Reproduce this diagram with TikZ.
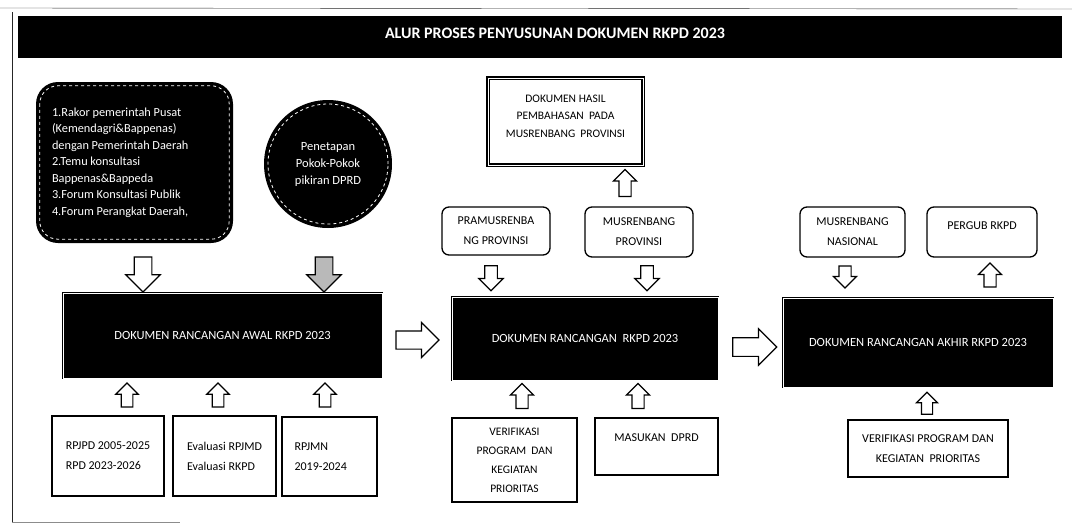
\documentclass[tikz,border=0pt]{standalone}
\usepackage{fontspec}
\setmainfont{Carlito}
\usetikzlibrary{shapes.arrows}
\colorlet{scan}{black!85}

\tikzset{
    boxtxt/.style={font=\fontsize{12}{20}\selectfont, align=center, inner sep=0pt},
    darkbox/.style={draw=black, fill=black, line width=0.9pt, double=white,
        double distance=0.7pt, text=white, font=\fontsize{12.5}{15}\selectfont},
    plainbox/.style={draw=black, fill=white, line width=1.3pt, boxtxt},
    softbox/.style={plainbox, rounded corners=7pt},
    blockarr/.style 2 args={single arrow, draw=black, fill=white, line width=1.2pt,
        inner xsep=0pt, inner ysep={#2/4}, minimum height=#1, minimum width=#2,
        single arrow head extend={#2/4}},
    uparr/.style 2 args={blockarr={#1}{#2}, rotate=90},
    downarr/.style 2 args={blockarr={#1}{#2}, rotate=-90}
}

\begin{document}
\begin{tikzpicture}[x=1pt,y=-1pt]
    \useasboundingbox (0,0) rectangle (1072,525);
    % sheet edges
    \draw [scan,thin] (0,8) -- (1072,9);
    \draw [scan,line width=1pt] (12,12) -- (12,523);
    \draw [black!45,line width=1pt] (12,522) -- (180,522);

    % title
    \node [fill=black, minimum width=1044, minimum height=42] (bar) at (540,37) {};
    \node [text=white, font=\fontsize{16}{18}\bfseries] (title) at (555,33)
        {ALUR PROSES PENYUSUNAN DOKUMEN RKPD 2023};

    % inputs of the first draft
    \node [fill=black, text=white, rounded corners=22pt, minimum width=197,
        minimum height=161, text width=165, align=flush left,
        font=\fontsize{12.3}{16.5}\selectfont]
        (rakor) at (134.5,162.5)
        {1.Rakor pemerintah Pusat\\(Kemendagri\&Bappenas)\\dengan Pemerintah Daerah\\
         2.Temu konsultasi\\Bappenas\&Bappeda\\3.Forum Konsultasi Publik\\
         4.Forum Perangkat Daerah,};
    \draw [white,dashed,thick,rounded corners=18pt]
        ([shift={(4,4)}]rakor.north west) rectangle ([shift={(-4,-4)}]rakor.south east);
    \node [circle, fill=black, text=white, minimum size=128, align=center,
        font=\fontsize{12.5}{17}\selectfont] (pokir) at (328,164)
        {Penetapan\\Pokok-Pokok\\pikiran DPRD};
    \draw [white,dashed,thick] (pokir.center) circle [radius=60pt];
    \node [downarr={35}{33}] (arakor) at (143,270) {};
    \node [downarr={35}{33}, fill=gray!55] (apokir) at (324,270) {};

    % first draft
    \node [darkbox, minimum width=319, minimum height=85] (awal) at (222.5,335.5)
        {DOKUMEN RANCANGAN AWAL RKPD 2023};
    \node [plainbox, minimum width=112, minimum height=80, align=left] (rpjpd) at (108,456)
        {RPJPD 2005-2025\\RPD 2023-2026};
    \node [plainbox, minimum width=103, minimum height=80, align=left] (evrk) at (224.5,456)
        {Evaluasi RPJMD\\Evaluasi RKPD};
    \node [plainbox, minimum width=95, minimum height=79, text width=70, align=flush left]
        (rpjmn) at (329.5,456.5) {RPJMN\\2019-2024};
    \node [uparr={24}{21}] (arpjpd) at (127,398) {};
    \node [uparr={24}{21}] (aevrk) at (218,398) {};
    \node [uparr={24}{21}] (arpjmn) at (325,398) {};
    \node [blockarr={43}{34}] (nx1) at (413,340) {};

    % draft
    \node [darkbox, minimum width=266, minimum height=83] (rancangan) at (585,338.5)
        {DOKUMEN RANCANGAN\ \ RKPD 2023};
    \node [plainbox, line width=1.6pt, double=white, double distance=1pt,
        minimum width=155, minimum height=87] (hasil) at (565.5,121.5) {};
    \node [boxtxt, font=\fontsize{11.5}{17.5}\selectfont] (hasiltxt) at (565.5,116)
        {DOKUMEN HASIL\\PEMBAHASAN\ \ PADA\\MUSRENBANG\ \ PROVINSI};
    \node [softbox, minimum width=108, minimum height=48] (pramus) at (496,231)
        {PRAMUSRENBA\\NG PROVINSI};
    \node [softbox, minimum width=108, minimum height=50] (musprov) at (639,232)
        {MUSRENBANG\\PROVINSI};
    \node [uparr={27}{22}] (ahasil) at (625,186) {};
    \node [downarr={25}{23}] (apramus) at (491,275) {};
    \node [downarr={25}{23}] (amusprov) at (647,275) {};
    \node [plainbox, minimum width=125, minimum height=84,
        font=\fontsize{11.5}{19}\selectfont] (verif) at (514.5,460)
        {VERIFIKASI\\PROGRAM\ \ DAN\\KEGIATAN\\PRIORITAS};
    \node [plainbox, minimum width=123, minimum height=57] (dprd) at (656.5,446.5) {};
    \node [boxtxt] (dprdtxt) at (656.5,438) {MASUKAN\ \ DPRD};
    \node [uparr={25}{22}] (averif) at (522,399) {};
    \node [uparr={25}{22}] (adprd) at (638,399) {};
    \node [blockarr={44}{35}] (nx2) at (750,347) {};

    % final draft
    \node [darkbox, minimum width=270, minimum height=89] (akhir) at (918,342.5)
        {DOKUMEN RANCANGAN AKHIR RKPD 2023};
    \node [softbox, minimum width=105, minimum height=50] (musnas) at (852.5,232)
        {MUSRENBANG\\NASIONAL};
    \node [softbox, minimum width=110, minimum height=50] (pergub) at (982,232) {};
    \node [boxtxt] (pergubtxt) at (982,226) {PERGUB RKPD};
    \node [downarr={22}{22}] (amusnas) at (845,274) {};
    \node [uparr={24}{22}] (apergub) at (990,278) {};
    \node [plainbox, minimum width=160, minimum height=57] (verifb) at (928,448.5)
        {VERIFIKASI PROGRAM DAN\\KEGIATAN\ \ PRIORITAS};
    \node [uparr={22}{20}] (averifb) at (927,406) {};
\end{tikzpicture}
\end{document}
